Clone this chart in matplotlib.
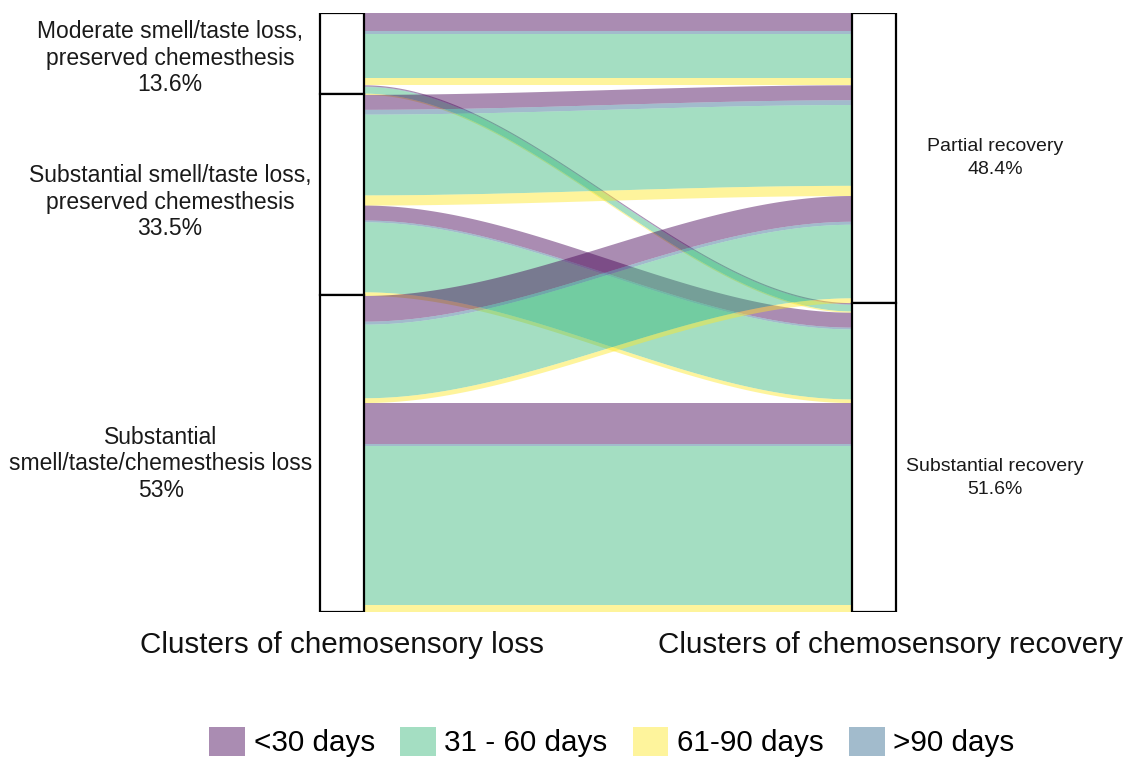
import numpy as np
import matplotlib.pyplot as plt
from matplotlib.patches import Rectangle, Patch

plt.rcParams['font.family'] = ['Liberation Sans', 'DejaVu Sans']

# stacking order of the durations inside each lode (factor order of the original)
durations = ['<30 days', '>90 days', '31 - 60 days', '61-90 days']
legend_order = ['<30 days', '31 - 60 days', '61-90 days', '>90 days']
colors = {'<30 days': '#440154', '>90 days': '#31688E',
          '31 - 60 days': '#35B779', '61-90 days': '#FDE725'}

loss_clusters = ['moderate', 'subst_preserved', 'subst_all']
recovery_clusters = ['partial', 'substantial']

# share of patients (%), one value per duration in stacking order
moderate_to_partial = [3.0, 0.5, 7.3, 1.2]
moderate_to_substantial = [0.2, 0.1, 1.1, 0.2]
preserved_to_partial = [2.5, 0.8, 13.5, 1.7]
preserved_to_substantial = [2.5, 0.3, 11.7, 0.6]
all_to_partial = [4.3, 0.5, 12.3, 0.8]
all_to_substantial = [7.0, 0.2, 26.6, 1.2]

flows = {
    ('moderate', 'partial'): moderate_to_partial,
    ('moderate', 'substantial'): moderate_to_substantial,
    ('subst_preserved', 'partial'): preserved_to_partial,
    ('subst_preserved', 'substantial'): preserved_to_substantial,
    ('subst_all', 'partial'): all_to_partial,
    ('subst_all', 'substantial'): all_to_substantial,
}

loss_labels = ['Moderate smell/taste loss,\npreserved chemesthesis\n13.6%',
               'Substantial smell/taste loss,\npreserved chemesthesis\n33.5%',
               'Substantial\nsmell/taste/chemesthesis loss\n53%']
recovery_labels = ['Partial recovery\n48.4%', 'Substantial recovery\n51.6%']

total = sum(sum(v) for v in flows.values())

W, H = 1130, 758
fig = plt.figure(figsize=(W / 100, H / 100), dpi=100)
ax = fig.add_axes([0, (H - 612) / H, 1, 599 / H])
ax.set_xlim(1 - 342 / 532, 1 + (W - 342) / 532)
ax.set_ylim(total, 0)
ax.axis('off')

box_w = 44 / 532
x_left, x_right = 1.0, 2.0

# lode positions on the left axis: loss cluster, then recovery cluster, then duration
left_pos = {}
y = 0
for l in loss_clusters:
    for r in recovery_clusters:
        for d, v in zip(durations, flows[(l, r)]):
            left_pos[(l, r, d)] = (y, y + v)
            y += v

# lode positions on the right axis: recovery cluster, then loss cluster, then duration
right_pos = {}
y = 0
for r in recovery_clusters:
    for l in loss_clusters:
        for d, v in zip(durations, flows[(l, r)]):
            right_pos[(l, r, d)] = (y, y + v)
            y += v

t = np.linspace(0, 1, 200)
s = t * t * (3 - 2 * t)
xs = (x_left + box_w / 2) + (x_right - x_left - box_w) * t
for key, (a0, b0) in left_pos.items():
    a1, b1 = right_pos[key]
    if b0 - a0 <= 0:
        continue
    top = a0 + (a1 - a0) * s
    bot = b0 + (b1 - b0) * s
    ax.fill_between(xs, top, bot, color=colors[key[2]], alpha=0.45, lw=0)

# strata boxes
def stratum_totals(clusters, key_index):
    out = []
    for c in clusters:
        out.append(sum(sum(v) for k, v in flows.items() if k[key_index] == c))
    return out

loss_tot = stratum_totals(loss_clusters, 0)
rec_tot = stratum_totals(recovery_clusters, 1)

y = 0
for v in loss_tot:
    ax.add_patch(Rectangle((x_left - box_w / 2, y), box_w, v, facecolor='white',
                           edgecolor='black', lw=1.6, zorder=3))
    y += v
y = 0
for v in rec_tot:
    ax.add_patch(Rectangle((x_right - box_w / 2, y), box_w, v, facecolor='white',
                           edgecolor='black', lw=1.6, zorder=3))
    y += v

# stratum labels
loss_label_xy = [(170, 58), (170, 202), (161, 464)]
for txt, (px, py) in zip(loss_labels, loss_label_xy):
    fig.text(px / W, 1 - py / H, txt, ha='center', va='center', fontsize=16.5,
             linespacing=1.2, color='#1a1a1a')
rec_label_xy = [(995, 158), (995, 478)]
for txt, (px, py) in zip(recovery_labels, rec_label_xy):
    fig.text(px / W, 1 - py / H, txt, ha='center', va='center', fontsize=14,
             linespacing=1.4, color='#1a1a1a')

# axis titles
fig.text(342 / W, 1 - 645 / H, 'Clusters of chemosensory loss', ha='center', va='center',
         fontsize=21.3, color='#111111')
fig.text(890 / W, 1 - 645 / H, 'Clusters of chemosensory recovery', ha='center', va='center',
         fontsize=21.3, color='#111111')

handles = [Patch(facecolor=colors[d], alpha=0.45, edgecolor='none', label=d) for d in legend_order]
fig.legend(handles=handles, loc='center', bbox_to_anchor=(612 / W, 1 - 742 / H), ncol=4,
           frameon=False, fontsize=21.3, handlelength=1.2, handleheight=1.15,
           handletextpad=0.3, columnspacing=0.85)

fig.savefig('out.png', dpi=100)
